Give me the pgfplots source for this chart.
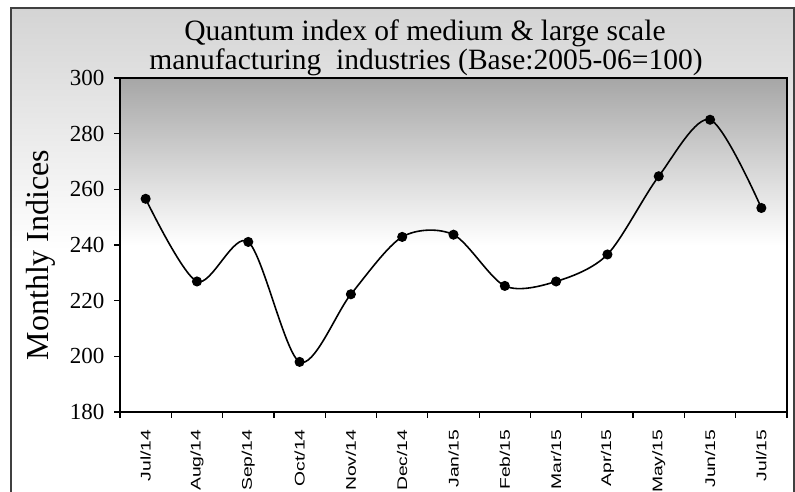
\documentclass[border=0pt]{standalone}
\usepackage{pgfplots}
\pgfplotsset{compat=1.18}
\usepackage{fontspec}
\setmainfont{Liberation Serif}
\newfontfamily\xfont[FakeStretch=1.38]{Liberation Sans}
\definecolor{plottop}{RGB}{166,166,166}
\definecolor{outertop}{RGB}{212,212,212}
\begin{document}
\begin{tikzpicture}[x=1bp,y=1bp]
\useasboundingbox (-120,-80) rectangle (675,412);
\shade[top color=outertop, bottom color=white, middle color=white] (-109,-80) rectangle (674,404);
\draw[line width=1.6bp, black!75] (-109,-90) -- (-109,404) -- (674,404) -- (674,-90);
\node[anchor=base, font=\fontsize{29.5bp}{31bp}\selectfont, inner sep=0pt] at (305,371) {Quantum index of medium \& large scale};
\node[anchor=base, font=\fontsize{29.5bp}{31bp}\selectfont, inner sep=0pt] at (306,342) {manufacturing\ \ industries (Base:2005-06=100)};
\node[rotate=90, anchor=base, font=\fontsize{32bp}{34bp}\selectfont, inner sep=0pt] at (-71,157) {Monthly Indices};
\begin{axis}[at={(0,0)}, anchor=south west, scale only axis,
  width=667bp, height=334bp,
  xmin=-0.5, xmax=12.5, ymin=180, ymax=300,
  ytick={180,200,...,300},
  xtick={-0.5,0.5,...,12.5},
  xticklabels={Jul/14,Aug/14,Sep/14,Oct/14,Nov/14,Dec/14,Jan/15,Feb/15,Mar/15,Apr/15,May/15,Jun/15,Jul/15,{}},
  tick align=outside, tick pos=left, major tick length=6bp,
  axis line style={line width=1.5bp},
  every tick/.style={black, line width=1.2bp},
  axis background/.style={top color=plottop, bottom color=white, middle color=white},
  /pgf/number format/assume math mode=true,
  yticklabel style={font=\fontsize{23bp}{25bp}\selectfont, xshift=-6bp},
  xticklabel style={font=\xfont\fontsize{14bp}{16bp}\selectfont, xshift=25.65bp, yshift=-8bp, rotate=90, anchor=east},
]
\addplot[black, line width=1.6bp, smooth, mark=*, mark size=4.2bp, mark options={solid, fill=black}]
  coordinates {(0,256.6)(1,226.9)(2,241.1)(3,198.0)(4,222.3)(5,242.9)(6,243.7)(7,225.3)(8,226.9)(9,236.6)(10,264.7)(11,285.0)(12,253.3)};
\end{axis}
\end{tikzpicture}
\end{document}
